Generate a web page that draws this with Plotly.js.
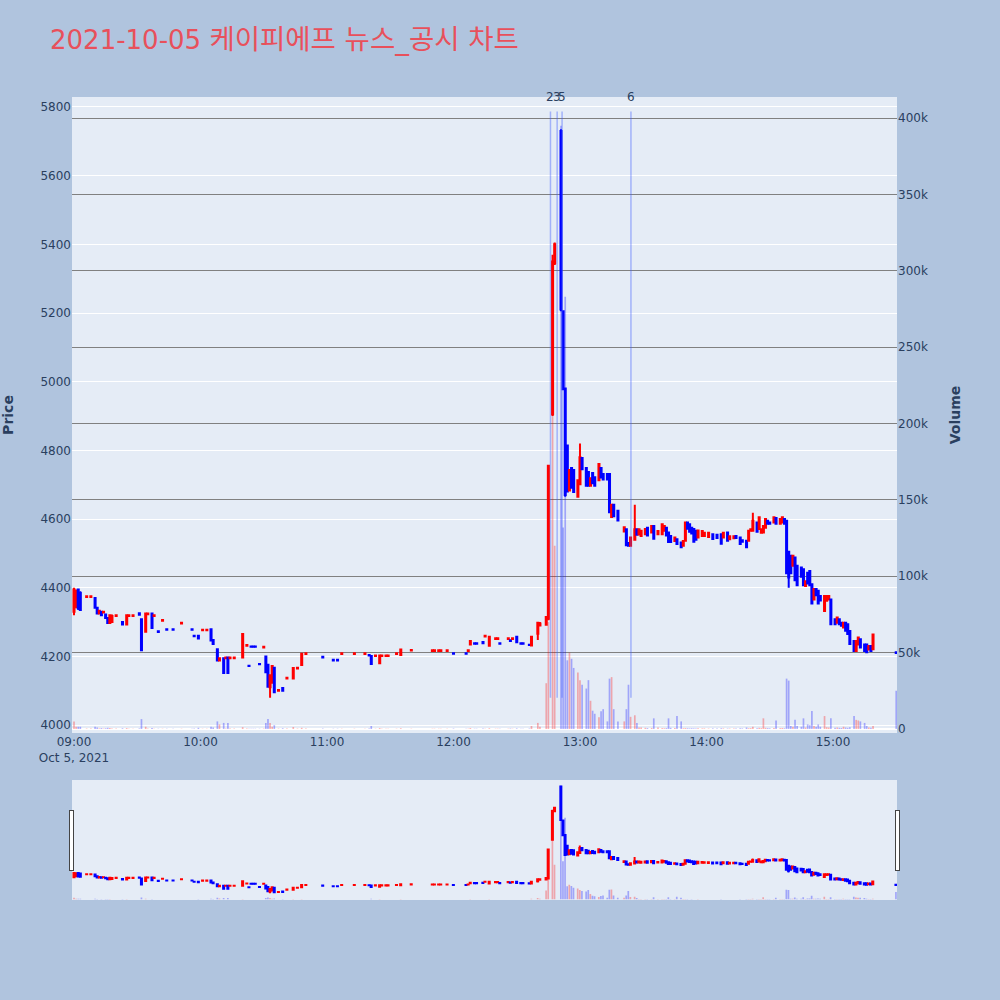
<!DOCTYPE html>
<html><head><meta charset="utf-8">
<script src="https://cdn.plot.ly/plotly-3.0.1.min.js"></script>
<style>body{margin:0;background:#B0C4DE}</style>
</head><body><div id="chart" style="width:1000px;height:1000px"></div>
<script>
const day = '2021-10-05';
const times = ['09:00','09:01','09:02','09:03','09:06','09:08','09:10','09:11','09:12','09:13','09:14','09:15','09:16','09:17','09:18','09:20','09:23','09:25','09:26','09:28',
'09:31','09:32','09:34','09:35','09:37','09:38','09:40','09:42','09:44','09:47','09:51','09:56','09:57','09:59','10:01','10:03','10:05','10:06','10:08','10:09',
'10:11','10:12','10:13','10:14','10:16','10:20','10:22','10:23','10:24','10:25','10:26','10:28','10:30','10:31','10:32','10:33','10:34','10:35','10:37','10:39',
'10:41','10:44','10:46','10:48','10:50','10:58','11:03','11:05','11:07','11:13','11:18','11:20','11:21','11:23','11:25','11:26','11:28','11:29','11:33','11:35',
'11:40','11:50','11:51','11:53','11:54','11:57','12:00','12:06','12:07','12:08','12:10','12:11','12:14','12:15','12:17','12:20','12:21','12:22','12:26','12:27',
'12:28','12:30','12:32','12:33','12:36','12:37','12:40','12:41','12:44','12:45','12:47','12:48','12:51','12:52','12:53','12:54','12:55','12:56','12:57','12:59',
'13:00','13:01','13:03','13:04','13:05','13:06','13:07','13:09','13:10','13:11','13:13','13:14','13:15','13:16','13:18','13:21','13:22','13:23','13:24','13:26',
'13:27','13:28','13:29','13:31','13:32','13:34','13:35','13:37','13:39','13:40','13:41','13:42','13:43','13:45','13:46','13:48','13:49','13:50','13:51','13:52',
'13:53','13:54','13:55','13:56','13:58','13:59','14:01','14:03','14:05','14:07','14:08','14:10','14:11','14:13','14:14','14:16','14:17','14:19','14:20','14:21',
'14:22','14:24','14:25','14:26','14:27','14:28','14:29','14:30','14:32','14:33','14:35','14:36','14:37','14:38','14:39','14:40','14:41','14:42','14:43','14:45',
'14:46','14:47','14:48','14:49','14:50','14:51','14:52','14:53','14:54','14:56','14:57','14:58','14:59','15:01','15:02','15:03','15:04','15:05','15:06','15:07',
'15:08','15:10','15:11','15:12','15:13','15:15','15:16','15:17','15:18','15:19','15:30'];
const opens = [4330,4345,4395,4385,4373,4373,4370,4342,4325,4330,4328,4322,4312,4297,4300,4318,4300,4293,4318,4318,
4326,4308,4272,4323,4325,4318,4273,4304,4279,4279,4296,4279,4260,4260,4276,4276,4279,4248,4221,4188,
4195,4195,4197,4195,4195,4197,4231,4173,4229,4229,4229,4178,4226,4200,4176,4110,4123,4167,4100,4108,
4136,4136,4165,4175,4207,4199,4190,4190,4207,4207,4207,4204,4201,4201,4180,4201,4201,4201,4207,4204,
4217,4216,4216,4216,4216,4216,4209,4209,4216,4235,4238,4238,4242,4258,4231,4251,4251,4238,4251,4247,
4251,4257,4238,4238,4234,4232,4266,4290,4292,4310,4905,5345,5730,5205,4980,4814,4683,4749,4743,4665,
4701,4778,4749,4737,4697,4734,4722,4713,4749,4731,4731,4731,4606,4642,4624,4564,4570,4530,4522,4540,
4570,4555,4551,4556,4575,4561,4580,4556,4556,4566,4575,4561,4551,4536,4541,4532,4522,4537,4590,4585,
4575,4571,4566,4546,4551,4551,4548,4556,4554,4556,4546,4561,4541,4544,4551,4546,4538,4537,4537,4566,
4566,4590,4571,4560,4561,4575,4595,4590,4590,4603,4586,4590,4600,4595,4505,4493,4464,4488,4464,4459,
4454,4405,4444,4449,4410,4366,4396,4391,4376,4332,4362,4366,4366,4308,4298,4308,4298,4284,4298,4294,
4274,4245,4216,4235,4250,4235,4235,4220,4230,4221,4212];
const highs = [4400,4395,4398,4390,4376,4376,4372,4343,4336,4331,4332,4323,4313,4322,4322,4322,4301,4322,4321,4321,
4327,4310,4326,4326,4326,4322,4274,4308,4280,4280,4300,4280,4261,4261,4280,4280,4280,4249,4222,4196,
4196,4199,4198,4199,4199,4267,4235,4174,4230,4230,4230,4179,4230,4201,4177,4146,4175,4168,4104,4110,
4140,4168,4169,4210,4211,4200,4191,4191,4211,4211,4211,4205,4202,4205,4205,4205,4205,4205,4211,4222,
4221,4220,4220,4220,4220,4220,4210,4210,4220,4246,4239,4239,4243,4262,4258,4255,4255,4239,4255,4248,
4255,4258,4239,4239,4235,4258,4300,4300,4316,4758,5370,5405,5735,5206,4982,4816,4745,4751,4745,4715,
4820,4780,4751,4739,4720,4736,4724,4762,4751,4733,4733,4733,4644,4644,4626,4577,4572,4532,4547,4642,
4572,4572,4568,4573,4577,4582,4582,4567,4586,4581,4577,4563,4553,4547,4543,4533,4537,4592,4592,4587,
4577,4573,4568,4568,4566,4561,4561,4557,4555,4557,4561,4562,4551,4551,4552,4547,4539,4538,4567,4571,
4618,4592,4607,4571,4581,4601,4597,4592,4606,4605,4601,4606,4602,4597,4507,4495,4495,4490,4466,4461,
4456,4420,4446,4451,4412,4398,4398,4393,4378,4378,4377,4377,4368,4310,4314,4310,4300,4299,4300,4296,
4276,4247,4247,4256,4252,4237,4237,4231,4232,4266,4212];
const lows = [4320,4340,4335,4332,4372,4372,4340,4322,4323,4318,4326,4310,4295,4295,4298,4317,4292,4292,4318,4318,
4320,4215,4270,4323,4282,4318,4270,4304,4277,4277,4296,4277,4258,4251,4276,4276,4244,4234,4186,4187,
4150,4195,4150,4195,4195,4196,4231,4171,4227,4227,4227,4176,4226,4152,4110,4080,4122,4094,4100,4098,
4136,4135,4165,4174,4207,4196,4187,4187,4207,4207,4207,4202,4176,4201,4179,4201,4201,4201,4207,4203,
4217,4216,4216,4216,4216,4216,4207,4207,4216,4234,4236,4236,4237,4258,4230,4251,4251,4236,4251,4244,
4251,4240,4236,4236,4232,4231,4248,4288,4290,4305,4900,5340,5205,4975,4665,4677,4681,4689,4677,4663,
4699,4743,4695,4695,4695,4702,4695,4711,4719,4713,4713,4618,4604,4606,4594,4562,4522,4520,4520,4538,
4552,4553,4549,4554,4550,4559,4541,4554,4554,4564,4551,4531,4531,4534,4526,4517,4520,4535,4570,4561,
4556,4532,4537,4544,4549,4549,4546,4541,4544,4526,4544,4536,4539,4543,4544,4526,4533,4517,4535,4565,
4564,4561,4569,4558,4559,4573,4584,4585,4588,4585,4584,4588,4585,4440,4400,4440,4462,4420,4405,4430,
4405,4403,4410,4405,4352,4364,4376,4352,4362,4330,4360,4364,4293,4293,4296,4293,4288,4282,4274,4264,
4235,4215,4214,4233,4225,4215,4211,4218,4215,4219,4208];
const closes = [4395,4390,4340,4335,4375,4375,4342,4325,4333,4320,4330,4312,4297,4320,4318,4320,4293,4320,4320,4320,
4321,4218,4325,4325,4283,4320,4271,4306,4278,4278,4298,4278,4259,4252,4278,4278,4246,4236,4188,4195,
4152,4197,4152,4197,4197,4265,4233,4172,4228,4228,4228,4177,4228,4154,4112,4145,4172,4096,4102,4100,
4138,4166,4167,4208,4209,4197,4188,4188,4209,4209,4209,4203,4178,4203,4203,4203,4203,4203,4209,4220,
4219,4218,4218,4218,4218,4218,4208,4208,4218,4245,4237,4237,4238,4260,4257,4253,4253,4237,4253,4245,
4253,4241,4237,4237,4233,4257,4298,4296,4315,4755,5350,5400,5210,4978,4670,4680,4743,4691,4679,4713,
4780,4745,4697,4697,4719,4704,4697,4760,4721,4715,4715,4620,4642,4608,4596,4576,4524,4522,4546,4570,
4554,4570,4566,4571,4552,4580,4543,4565,4585,4580,4552,4533,4533,4546,4527,4518,4536,4590,4572,4563,
4558,4534,4540,4567,4565,4560,4560,4542,4545,4528,4560,4537,4550,4550,4545,4527,4534,4518,4566,4570,
4595,4563,4605,4570,4580,4600,4586,4586,4605,4586,4600,4605,4586,4442,4430,4442,4493,4422,4407,4432,
4407,4419,4412,4407,4354,4396,4378,4354,4363,4376,4376,4376,4294,4294,4313,4294,4289,4298,4275,4265,
4236,4216,4245,4255,4226,4216,4212,4230,4216,4264,4210];
const volumes = [5000,1500,1500,1500,300,300,1500,1000,400,600,300,500,800,600,400,300,500,600,200,200,
400,6500,1500,300,600,200,200,200,200,200,200,200,300,800,200,200,1500,1000,5000,3000,
4000,300,4000,300,300,1200,300,200,200,200,200,200,300,4000,6500,4000,1500,2500,300,500,
300,1300,300,800,300,300,200,200,200,200,200,300,2000,200,600,200,200,200,200,500,
200,200,200,200,200,200,300,200,200,600,200,200,300,200,500,200,200,200,200,300,
200,400,200,200,300,2000,4000,1500,30000,70000,210000,120000,395000,132000,283000,45000,50000,46000,40000,37000,
32000,29000,26500,32000,18500,12000,10000,7700,11700,13000,5000,33000,34000,13000,5000,5000,13000,29000,8000,9000,
4000,1000,1000,800,600,700,7000,1000,600,500,600,7000,800,600,8500,5000,500,600,500,400,
500,400,400,500,400,400,300,400,300,500,400,300,300,300,400,500,400,1000,500,600,
1500,500,800,600,7000,800,600,500,700,5600,600,700,500,33000,31700,2000,1500,6000,2000,1500,
7000,1000,3000,2500,11800,2000,1500,3000,1500,8500,1200,1000,7000,800,1000,800,700,1500,1000,800,
1200,8500,6000,5600,5000,4000,2000,1000,800,2000,25000];
const newsTimes = ['12:46:00','12:49:10','12:51:30','13:24:10'];
const newsLabels = ['2','3','5','6'];

const xs = times.map(t => day + ' ' + t);
const volColors = closes.map((c, i) => c >= opens[i] ? 'rgba(255,0,0,0.3)' : 'rgba(0,0,255,0.3)');
const dayLow = Math.min(...lows);
const lineTop = Math.max(...highs) * 1.009;

const candle = {
  type: 'candlestick', x: xs, open: opens, high: highs, low: lows, close: closes,
  increasing: {line: {color: 'red'}, fillcolor: 'red'},
  decreasing: {line: {color: 'blue'}, fillcolor: 'blue'},
  name: 'Price', yaxis: 'y', showlegend: false
};
const vol = {
  type: 'bar', x: xs, y: volumes, marker: {color: volColors}, yaxis: 'y2',
  name: 'Volume', showlegend: false
};
const shapes = newsTimes.map(t => ({
  type: 'line', xref: 'x', yref: 'y', x0: day + ' ' + t, x1: day + ' ' + t,
  y0: dayLow, y1: lineTop, line: {color: 'rgba(60,90,255,0.4)', width: 1.5}
}));
const annotations = newsTimes.map((t, i) => ({
  x: day + ' ' + t, y: lineTop, xref: 'x', yref: 'y', text: newsLabels[i],
  showarrow: false, yanchor: 'bottom', yshift: 6, font: {size: 12, color: '#2a3f5f'}
}));

const layout = {
  width: 1000, height: 1000,
  paper_bgcolor: '#B0C4DE', plot_bgcolor: '#E5ECF6',
  font: {family: 'DejaVu Sans, "Noto Sans CJK KR", sans-serif', size: 12, color: '#2a3f5f'},
  title: {text: '2021-10-05 <span style="font-size:27.5px">케이피에프 뉴스_공시 차트</span>', x: 0.05, xanchor: 'left', y: 0.96, yanchor: 'middle', yref: 'container',
          font: {size: 26, color: '#E8505B'}},
  margin: {l: 72, r: 103, t: 97, b: 100},
  showlegend: false,
  xaxis: {type: 'date', range: [day + ' 08:59:03', day + ' 15:30:22'], showgrid: false,
          rangeslider: {visible: true, bgcolor: '#E5ECF6', thickness: 0.15,
                        yaxis: {rangemode: 'match'}, yaxis2: {rangemode: 'match'}}},
  yaxis: {title: {text: 'Price', font: {size: 14, weight: 'bold'}, standoff: 33}, range: [3977, 5829],
          gridcolor: 'white', zeroline: false},
  yaxis2: {title: {text: 'Volume', font: {size: 14, weight: 'bold'}, standoff: 23}, overlaying: 'y', side: 'right',
           range: [-2600, 413800], gridcolor: 'grey', zerolinecolor: 'white', zerolinewidth: 2},
  shapes: shapes, annotations: annotations
};
Plotly.newPlot('chart', [candle, vol], layout, {displayModeBar: false});
</script></body></html>
